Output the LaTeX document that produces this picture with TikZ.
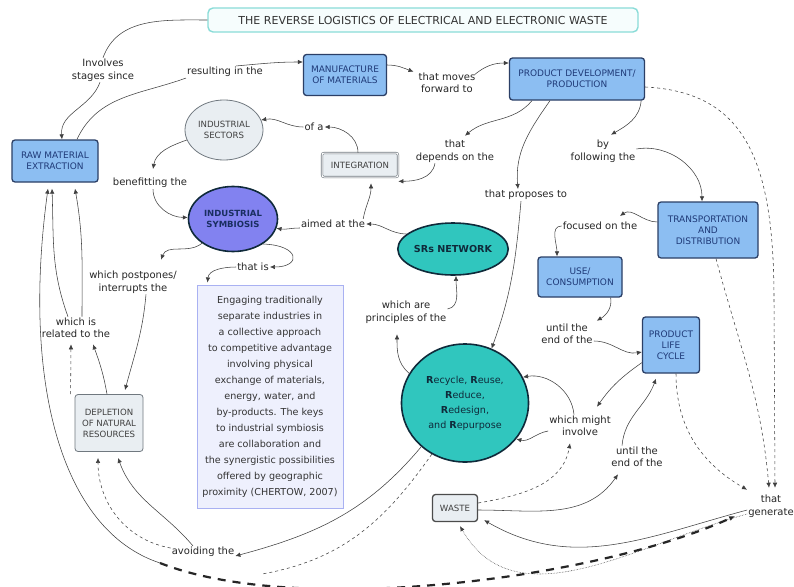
\documentclass[tikz,border=0pt]{standalone}
\usepackage{fontspec}
\setmainfont{DejaVu Sans}
\usetikzlibrary{arrows.meta,shapes.geometric,calc}
\definecolor{boxblue}{HTML}{8CBEF2}
\definecolor{boxedge}{HTML}{2B3F66}
\definecolor{boxtext}{HTML}{1F3A78}
\definecolor{symbfill}{HTML}{8282F0}
\definecolor{tealfill}{HTML}{30C6BE}
\definecolor{darkedge}{HTML}{0F2A3A}
\definecolor{grayfill}{HTML}{E9EEF2}
\definecolor{grayedge}{HTML}{70787F}
\definecolor{titleedge}{HTML}{8ADCD8}
\definecolor{titlefill}{HTML}{F6FDFD}
\definecolor{deffill}{HTML}{EEF0FD}
\definecolor{defedge}{HTML}{A9B1F2}
\definecolor{linecol}{HTML}{404040}
\begin{document}
\begin{tikzpicture}[x=1pt,y=-1pt,
  lbl/.style={font=\fontsize{10}{12.5}\selectfont, text=black!85, align=center, inner sep=1pt},
  bluebox/.style={draw=boxedge, fill=boxblue, line width=1.3pt, rounded corners=3pt, font=\fontsize{9}{11}\selectfont, text=boxtext, align=center, inner sep=1pt},
  graybox/.style={draw=grayedge, fill=grayfill, line width=0.8pt, rounded corners=3pt, font=\fontsize{8.6}{11}\selectfont, text=black!75, align=center, inner sep=1pt},
  grayell/.style={ellipse, draw=grayedge, fill=grayfill, line width=0.8pt, font=\fontsize{8.6}{11}\selectfont, text=black!75, align=center, inner sep=0pt},
  tealell/.style={ellipse, draw=darkedge, fill=tealfill, line width=1.6pt, text=darkedge, align=center, inner sep=0pt},
  symbell/.style={ellipse, draw=darkedge, fill=symbfill, line width=1.6pt, text=boxtext!80!black, align=center, inner sep=0pt, font=\bfseries\fontsize{8.5}{10.5}\selectfont},
  titlebox/.style={draw=titleedge, fill=titlefill, line width=1.4pt, rounded corners=5pt, font=\fontsize{11}{13}\selectfont, text=black!80, inner sep=1pt},
  defbox/.style={draw=defedge, fill=deffill, line width=1pt, font=\fontsize{9.6}{16}\selectfont, text=black!80, align=center, inner sep=2pt},
  conn/.style={draw=linecol, line width=0.55pt},
  arr/.style={conn, -{Latex[length=5pt,width=4.5pt]}},
]
\fill[white] (0,0) rectangle (794,586);
\useasboundingbox (0,0) rectangle (794,586);

% concepts
\node[titlebox, minimum width=430pt, minimum height=24pt] (title) at (423,20) {THE REVERSE LOGISTICS OF ELECTRICAL AND ELECTRONIC WASTE};
\node[bluebox, minimum width=83pt, minimum height=41pt] (manuf) at (345,75) {MANUFACTURE\\OF MATERIALS};
\node[bluebox, minimum width=135pt, minimum height=42pt] (proddev) at (577,79) {PRODUCT DEVELOPMENT/\\PRODUCTION};
\node[bluebox, minimum width=86pt, minimum height=42pt] (raw) at (55,161) {RAW MATERIAL\\EXTRACTION};
\node[grayell, minimum width=78pt, minimum height=60pt] (sectors) at (224,130) {INDUSTRIAL\\SECTORS};
\node[graybox, double=white, double distance=1pt, line width=0.6pt, rounded corners=2pt, minimum width=76pt, minimum height=24pt] (integ) at (360,165) {INTEGRATION};
\node[symbell, minimum width=89pt, minimum height=65pt] (symb) at (233,219) {INDUSTRIAL\\SYMBIOSIS};
\node[tealell, minimum width=103pt, minimum height=52pt, font=\bfseries\fontsize{9.6}{11}\selectfont] (srs) at (453,249) {SRs NETWORK};
\node[tealell, minimum width=127pt, minimum height=118pt, font=\fontsize{9.6}{15}\selectfont] (recycle) at (465,403) {\textbf{R}ecycle, \textbf{R}euse,\\\textbf{R}educe,\\\textbf{R}edesign,\\and \textbf{R}epurpose};
\node[bluebox, minimum width=100pt, minimum height=56pt] (transp) at (708,230) {TRANSPORTATION\\AND\\DISTRIBUTION};
\node[bluebox, minimum width=84pt, minimum height=40pt] (use) at (580,277) {USE/\\CONSUMPTION};
\node[bluebox, minimum width=57pt, minimum height=56pt] (plc) at (671,345) {PRODUCT\\LIFE\\CYCLE};
\node[graybox, minimum width=68pt, minimum height=57pt] (depl) at (109,423) {DEPLETION\\OF NATURAL\\RESOURCES};
\node[graybox, draw=black!70, line width=1.3pt, minimum width=45pt, minimum height=27pt] (waste) at (455,508) {WASTE};
\node[defbox, minimum width=146pt, minimum height=223pt] (def) at (270,396.5) {Engaging traditionally\\separate industries in\\a collective approach\\to competitive advantage\\involving physical\\exchange of materials,\\energy, water, and\\by-products. The keys\\to industrial symbiosis\\are collaboration and\\the synergistic possibilities\\offered by geographic\\proximity (CHERTOW, 2007)};

% linking phrases
\node[lbl] (linv) at (103,70) {Involves\\stages since};
\node[lbl] (lres) at (225,72) {resulting in the};
\node[lbl] (lmov) at (447,83) {that moves\\forward to};
\node[lbl] (lofa) at (314,127) {of a};
\node[lbl] (ldep) at (455,151) {that\\depends on the};
\node[lbl] (lpro) at (526,195) {that proposes to};
\node[lbl] (lfol) at (603,151) {by\\following the};
\node[lbl] (lfoc) at (600,226) {focused on the};
\node[lbl] (lun1) at (567,334) {until the\\end of the};
\node[lbl] (lmig) at (580,426) {which might\\involve};
\node[lbl] (lun2) at (637,457) {until the\\end of the};
\node[lbl] (lgen) at (771,506) {that\\generate};
\node[lbl] (lpri) at (406,312) {which are\\principles of the};
\node[lbl] (laim) at (333,224) {aimed at the};
\node[lbl] (lben) at (150,183) {benefitting the};
\node[lbl] (lthi) at (253,267) {that is};
\node[lbl] (lpos) at (133,282) {which postpones/\\interrupts the};
\node[lbl] (lrel) at (76,328) {which is\\related to the};
\node[lbl] (lavo) at (203,552) {avoiding the};

% connectors
\draw[conn] (title.west) to[out=180,in=70] (linv.north);
\draw[arr] ([xshift=-3pt]linv.south) to[out=250,in=95] ([xshift=7pt]raw.north);
\draw[conn] ([xshift=22pt]raw.north) to[out=65,in=200] (lres.south west);
\draw[arr] ([xshift=-28pt]lres.north east) to[out=5,in=180] ([yshift=13pt]manuf.west);
\draw[arr] ([yshift=10pt]manuf.east) to[out=0,in=160] ([xshift=-4pt]lmov.north west);
\draw[arr] ([xshift=-2pt,yshift=-3pt]lmov.north east) to[out=40,in=180] ([yshift=16pt]proddev.west);
\draw[arr] ([xshift=-45pt]proddev.south) to[out=230,in=40] ([xshift=10pt,yshift=3pt]ldep.north);
\draw[arr] ([xshift=-20pt]ldep.south) to[out=260,in=0] ([yshift=-4pt]integ.south east);
\draw[arr] ([xshift=-27pt]proddev.south) to[out=235,in=95] ([xshift=-8pt]lpro.north);
\draw[arr] ([xshift=-5pt]lpro.south) to[out=265,in=70] (recycle.64);
\draw[arr] ([xshift=-4pt]proddev.south east) to[out=265,in=30] ([xshift=8pt,yshift=4pt]lfol.north);
\draw[arr] ([yshift=2pt]lfol.east) to[out=10,in=90] ([xshift=-6pt]transp.north);
\draw[arr,dashed] ([yshift=-8pt]proddev.east) .. controls (745,92) and (774,160) .. (774,300) -- ([xshift=4pt,yshift=6pt]lgen.north);
\draw[arr] ([xshift=-2pt]integ.north) to[out=90,in=0] (lofa.east);
\draw[arr] (lofa.west) to[out=180,in=10] (sectors.15);
\draw[arr] (sectors.195) to[out=200,in=80] ([xshift=3pt,yshift=8pt]lben.north);
\draw[arr] ([xshift=3pt]lben.south) to[out=270,in=180] (symb.178);
\draw[arr] (srs.162) to[out=180,in=0] (laim.east);
\draw[arr] ([yshift=-4pt]laim.west) to[out=180,in=-10] (symb.-12);
\draw[arr] ([xshift=-3pt]laim.north east) to[out=80,in=270] ([xshift=11pt,yshift=-6pt]integ.south);
\draw[arr] (symb.218) to[out=220,in=70] ([xshift=28pt,yshift=10pt]lpos.north);
\draw[arr] ([xshift=13pt]lpos.south) to[out=265,in=75] ([xshift=16pt,yshift=4pt]depl.north);
\draw[arr] (symb.-40) .. controls (300,245) and (302,267) .. (lthi.east);
\draw[arr] (lthi.west) to[out=180,in=85] ([xshift=11pt,yshift=2pt]def.north west);
\draw[arr,dashed] ([xshift=-4pt]depl.north west) -- ([xshift=-5pt,yshift=-5pt]lrel.south);
\draw[arr] ([xshift=-2pt]depl.north) to[out=100,in=290] ([xshift=17pt,yshift=-5pt]lrel.south);
\draw[arr] ([xshift=-8pt]lrel.north) to[out=110,in=272] ([xshift=-3pt,yshift=-6pt]raw.south);
\draw[arr] ([xshift=6pt]lrel.north) to[out=90,in=280] ([xshift=20pt,yshift=-6pt]raw.south);
\draw[arr] (160,563) .. controls (60,530) and (22,380) .. ([xshift=-7pt,yshift=-6pt]raw.south);
\draw[arr] ([yshift=8pt]transp.west) to[out=180,in=35] ([xshift=20pt,yshift=5pt]lfoc.north);
\draw[arr] (lfoc.west) to[out=180,in=90] ([xshift=-23pt]use.north);
\draw[arr] ([xshift=-12pt]use.south east) to[out=280,in=30] ([xshift=3pt,yshift=2pt]lun1.north east);
\draw[arr] ([yshift=-7pt]lun1.east) to[out=0,in=190] ([yshift=-7pt]plc.west);
\draw[arr] ([yshift=11pt]plc.south west) to[out=215,in=55] ([xshift=17pt,yshift=8pt]lmig.north);
\draw[arr] ([xshift=-6pt]lmig.north) to[out=95,in=10] (recycle.24);
\draw[arr] ([yshift=-5pt]lmig.west) to[out=190,in=-15] (recycle.-35);
\draw[arr,dashed] ([yshift=5pt]waste.east) to[out=10,in=260] ([xshift=-10pt,yshift=-6pt]lmig.south);
\draw[arr] ([yshift=-2pt]waste.east) to[out=0,in=235] ([xshift=-19pt,yshift=-6pt]lun2.south);
\draw[arr] ([xshift=-15pt]lun2.north) to[out=85,in=250] ([xshift=-15pt,yshift=-5pt]plc.south);
\draw[arr,dashed] ([xshift=5pt]plc.south) to[out=270,in=150] ([xshift=-24pt,yshift=4pt]lgen.north);
\draw[arr,dashed] ([xshift=8pt]transp.south) to[out=285,in=95] ([xshift=-2pt,yshift=6pt]lgen.north);
\draw[arr] ([yshift=-4pt]lgen.west) to[out=195,in=-30] ([xshift=6pt,yshift=2pt]waste.south east);
\draw[arr,densely dotted] ([yshift=-8pt]lgen.west) to[out=195,in=-60] ([xshift=5pt,yshift=-4pt]waste.south);
\draw[arr] (recycle.225) to[out=230,in=15] ([yshift=-4pt]lavo.east);
\draw[conn,dashed] (recycle.237) to[out=235,in=10] (262,574);
\draw[arr,dashed] ([yshift=4pt]lavo.west) to[out=170,in=270] ([xshift=-11pt,yshift=-6pt]depl.south);
\draw[arr] ([xshift=-10pt]lavo.north) to[out=130,in=290] ([xshift=9pt,yshift=-6pt]depl.south);
\draw[arr] (recycle.152) to[out=140,in=270] ([xshift=-9pt,yshift=-10pt]lpri.south);
\draw[arr] ([yshift=3pt]lpri.east) to[out=10,in=270] ([xshift=3pt]srs.south);
\draw[-{Latex[length=6pt,width=5pt]}, draw=black!85, line width=2.2pt, dash pattern=on 8pt off 7pt] (160,563) .. controls (300,618) and (600,578) .. ([xshift=-12pt,yshift=-10pt]lgen.west);
\end{tikzpicture}
\end{document}
